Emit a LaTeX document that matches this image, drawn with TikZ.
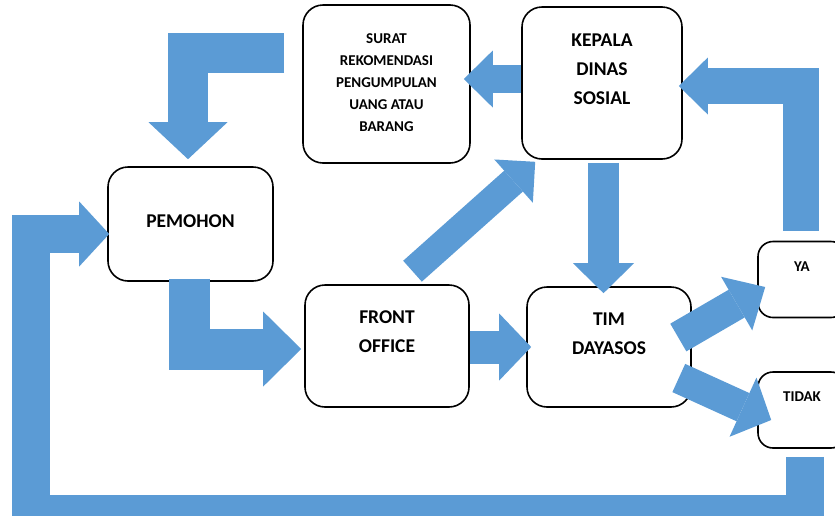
\documentclass[tikz,border=0pt]{standalone}
\usepackage{fontspec}
\setmainfont{Carlito}
\usepackage{xcolor}
\usetikzlibrary{shapes,arrows.meta,positioning,calc}
\definecolor{flowblue}{HTML}{5B9BD5}

\begin{document}
\begin{tikzpicture}[
    x=1pt, y=-1pt,
    box/.style={draw, line width=1.6pt, rounded corners=20pt, fill=white, inner sep=0pt},
    bigtext/.style={font=\bfseries\fontsize{19.5}{29}\selectfont, align=center, inner sep=0pt},
    smalltext/.style={font=\bfseries\fontsize{15}{22}\selectfont, align=center, inner sep=0pt},
    blockarrow/.style n args={3}{draw=flowblue, line width=#1,
                  -{Triangle[width=#2, length=#3, line width=0pt]}}
]
    \useasboundingbox (0,0) rectangle (835,515);
    \clip (0,0) rectangle (835,515);

    % Boxes
    \node[box, minimum width=167pt, minimum height=158pt] (surat) at (386.5,84) {};
    \node[box, minimum width=160pt, minimum height=152pt] (kepala) at (602,83) {};
    \node[box, minimum width=165pt, minimum height=114pt] (pemohon) at (190.5,224) {};
    \node[box, minimum width=164pt, minimum height=122pt] (front) at (387,346) {};
    \node[box, minimum width=164pt, minimum height=120pt] (tim) at (609,347) {};
    \node[box, rounded corners=15pt, minimum width=88pt, minimum height=76pt] (ya) at (802,279.5) {};
    \node[box, rounded corners=15pt, minimum width=88pt, minimum height=76pt] (tidak) at (802,410) {};

    % Texts
    \node[smalltext] (t-surat) at ($(surat.center)+(0,-1.5)$) {SURAT\\REKOMENDASI\\PENGUMPULAN\\UANG ATAU\\BARANG};
    \node[bigtext] (t-kepala) at ($(kepala.center)+(0,-14)$) {KEPALA\\DINAS\\SOSIAL};
    \node[bigtext] (t-pemohon) at ($(pemohon.center)+(0,-3)$) {PEMOHON};
    \node[bigtext] (t-front) at ($(front.center)+(0,-14.5)$) {FRONT\\OFFICE};
    \node[bigtext] (t-tim) at ($(tim.center)+(0,-13.5)$) {TIM\\DAYASOS};
    \node[smalltext] (t-ya) at ($(ya.center)+(0,-12.5)$) {YA};
    \node[smalltext] (t-tidak) at ($(tidak.center)+(0,-13)$) {TIDAK};

    % Arrows
    \draw[blockarrow={40pt}{79pt}{37pt}] ($(surat.west)+(-18,-31.5)$) -| ([xshift=-2.5pt,yshift=7pt]pemohon.north);
    \draw[blockarrow={28pt}{57pt}{29pt}] ($(kepala.west)+(0,-4)$) -- ($(surat.east)+(-7,-5)$);
    \draw[blockarrow={36pt}{57pt}{29pt}] ($(ya.north)+(-1,-10)$) |- ($(kepala.east)+(-4,3)$);
    \draw[blockarrow={28pt}{58pt}{29pt}] ($(front.north)+(25.5,-13)$) -- ($(kepala.south west)+(14,2)$);
    \draw[blockarrow={31pt}{61pt}{30pt}] ($(kepala.south)+(1.5,3)$) -- ($(kepala.south |- tim.north)+(1.5,7)$);
    \draw[blockarrow={41pt}{75pt}{38pt}] ($(pemohon.south)+(-1,-3)$) |- ($(front.west)+(-3,3)$);
    \draw[blockarrow={33pt}{67pt}{32pt}] ($(front.east)+(0,1)$) -- ($(tim.west)+(5,0)$);
    \draw[blockarrow={32pt}{62pt}{33pt}] ($(tim.east)+(-13.5,-9.5)$) -- ($(ya.west)+(8,7.5)$);
    \draw[blockarrow={31pt}{65pt}{31pt}] ($(tim.east)+(-13,31)$) -- ($(tidak.west)+(14,10)$);

    % Loop back to the applicant
    \coordinate (loop) at (31,514);
    \draw[blockarrow={38pt}{65pt}{30pt}] ($(tidak.south)+(3,8)$) |- (loop) |- ($(pemohon.west)+(2,10)$);
\end{tikzpicture}
\end{document}
